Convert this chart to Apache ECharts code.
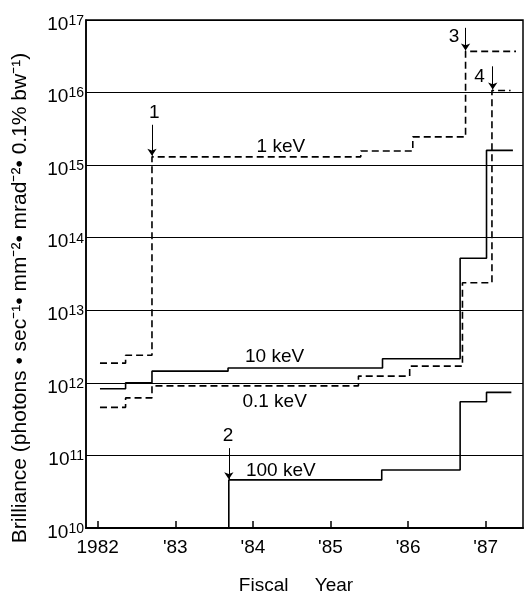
<!DOCTYPE html>
<html><head><meta charset="utf-8">
<script src="https://cdn.jsdelivr.net/npm/echarts@6/dist/echarts.min.js"></script>
<style>html,body{margin:0;padding:0;background:#fff}#c{width:526px;height:601px}</style>
</head><body><div id="c"></div>
<script>
// ---- data ----
const yearTicks = [1982, 1983, 1984, 1985, 1986, 1987];
const yearTickLabels = ['1982', "'83", "'84", "'85", "'86", "'87"];

const keV1Years  = [1982.03, 1982.36, 1982.70, 1985.39, 1986.06, 1986.74, 1987.39];
const keV1Values = [1.87e12, 2.4e12, 1.3e15, 1.57e15, 2.45e15, 3.7e16, 3.7e16];

const keV01Years  = [1982.03, 1982.36, 1982.70, 1985.36, 1986.02, 1986.70, 1987.08, 1987.32];
const keV01Values = [4.6e11, 6.2e11, 9.1e11, 1.24e12, 1.7e12, 2.4e13, 1.07e16, 1.07e16];

const keV10Years  = [1982.03, 1982.36, 1982.70, 1983.68, 1985.67, 1986.67, 1987.01, 1987.35];
const keV10Values = [8.3e11, 1.0e12, 1.45e12, 1.6e12, 2.15e12, 5.2e13, 1.6e15, 1.6e15];

const keV100Years  = [1983.69, 1983.69, 1985.66, 1986.67, 1987.01, 1987.33];
const keV100Values = [1e10, 4.6e10, 6.3e10, 5.5e11, 7.4e11, 7.4e11];

const seriesLabels      = ['1 keV', '10 keV', '0.1 keV', '100 keV'];
const seriesLabelYears  = [1984.36, 1984.28, 1984.28, 1984.36];
const seriesLabelValues = [1.78e15, 2.27e12, 5.45e11, 6.1e10];

const arrowNames  = ['1', '2', '3', '4'];
const arrowYears  = [1982.70, 1983.69, 1986.74, 1987.09];
const arrowFrom   = [3.6e15, 1.26e11, 7.8e16, 2.3e16];
const arrowTo     = [1.35e15, 4.7e10, 3.8e16, 1.1e16];
const arrowLabelYears  = [1982.73, 1983.68, 1986.59, 1986.92];
const arrowLabelValues = [5.2e15, 1.86e11, 5.8e16, 1.64e16];

// ---- chart ----
const FONT = "'Liberation Sans',Arial,sans-serif";
function stepSeries(name, xs, ys, dashed) {
  return {
    name, type: 'line', step: 'end', symbol: 'none', animation: false,
    data: xs.map((x, i) => [x, ys[i]]),
    lineStyle: { color: '#000', width: 1.6, type: dashed ? [7, 4] : 'solid' }
  };
}
const series = [
  stepSeries('1 keV', keV1Years, keV1Values, true),
  stepSeries('0.1 keV', keV01Years, keV01Values, true),
  stepSeries('10 keV', keV10Years, keV10Values, false),
  stepSeries('100 keV', keV100Years, keV100Values, false)
];
// text labels + arrows on a carrier series
series.push({
  type: 'line', data: [], symbol: 'none', animation: false,
  markPoint: {
    symbol: 'circle', symbolSize: 0, silent: true, animation: false,
    label: { show: true, position: 'inside', color: '#000', fontSize: 19, fontFamily: FONT, formatter: '{b}' },
    data: seriesLabels.map((t, i) => ({ name: t, coord: [seriesLabelYears[i], seriesLabelValues[i]] }))
      .concat(arrowNames.map((t, i) => ({ name: t, coord: [arrowLabelYears[i], arrowLabelValues[i]] })))
  },
  markLine: {
    silent: true, animation: false, symbol: ['none', 'arrow'], symbolSize: 7,
    lineStyle: { color: '#000', width: 1, type: 'solid' },
    label: { show: false },
    data: arrowNames.map((t, i) => [{ coord: [arrowYears[i], arrowFrom[i]] }, { coord: [arrowYears[i], arrowTo[i]] }])
  }
});

const chart = echarts.init(document.getElementById('c'), null, { renderer: 'canvas' });
chart.setOption({
  animation: false,
  backgroundColor: '#fff',
  grid: { left: 86, right: 3, top: 20, bottom: 73, show: true, borderColor: '#000', borderWidth: 1.5 },
  xAxis: {
    type: 'value', min: 1981.85, max: 1987.48,
    axisLine: { show: true, lineStyle: { color: '#000', width: 2 } },
    axisTick: { show: true, inside: true, length: 7, customValues: yearTicks, lineStyle: { color: '#000', width: 1.5 } },
    axisLabel: {
      customValues: yearTicks, margin: 10, color: '#000', fontSize: 19, fontFamily: FONT,
      formatter: v => yearTickLabels[yearTicks.indexOf(Math.round(v))]
    },
    splitLine: { show: false }
  },
  yAxis: {
    type: 'log', logBase: 10, min: 1e10, max: 1e17, splitNumber: 7,
    axisLine: { show: true, lineStyle: { color: '#000', width: 1.5 } },
    axisTick: { show: false },
    splitLine: { show: true, lineStyle: { color: '#000', width: 1 } },
    axisLabel: {
      margin: 2, color: '#000', fontFamily: FONT, padding: [8, 0, 0, 0],
      formatter: v => '{b|10}{s|' + Math.round(Math.log10(v)) + '}',
      rich: {
        b: { fontSize: 19, fontFamily: FONT, color: '#000', lineHeight: 20, verticalAlign: 'bottom' },
        s: { fontSize: 14, fontFamily: FONT, color: '#000', lineHeight: 20, verticalAlign: 'top' }
      }
    }
  },
  graphic: [
    { type: 'text', x: 20, y: 298, rotation: Math.PI / 2, silent: true,
      style: { text: 'Brilliance (photons • sec⁻¹• mm⁻²• mrad⁻²• 0.1% bw⁻¹)', fill: '#000',
               fontSize: 21, fontFamily: FONT, align: 'center', verticalAlign: 'middle' } },
    { type: 'text', x: 296, y: 586, silent: true,
      style: { text: 'Fiscal     Year', fill: '#000', fontSize: 19, fontFamily: FONT,
               align: 'center', verticalAlign: 'middle' } }
  ],
  series
});
</script>
</body></html>
